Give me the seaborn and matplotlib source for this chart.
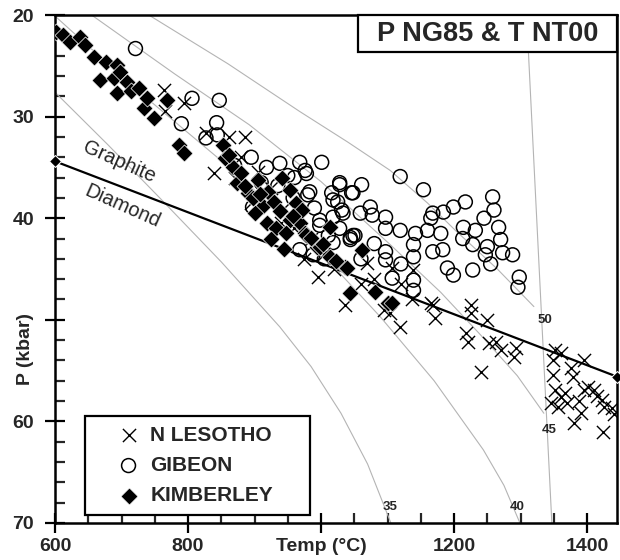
import numpy as np
import pandas as pd
import matplotlib.pyplot as plt
import matplotlib.patches as patches
from matplotlib.ticker import MultipleLocator
import seaborn as sns

# --- global style ---
sns.set_style('ticks')
plt.rcParams['font.family'] = ['Liberation Sans', 'DejaVu Sans']
plt.rcParams['font.weight'] = 'bold'

# --- data (T in deg C, P in kbar) ---
lesotho_T = [764, 794, 766, 827, 862, 885, 839, 880, 905, 925, 945, 960, 985, 1005,
             1020, 870, 895, 940, 975, 995, 1036, 1069, 1094, 1107, 1139, 1165,
             1060, 1080, 1120, 1104, 1119, 1137, 1169, 1172, 1225, 1225, 1250, 1218,
             1221, 1252, 1263, 1270, 1293, 1290, 1240, 1351, 1361, 1349, 1396, 1349,
             1376, 1379, 1346, 1361, 1370, 1396, 1402, 1411, 1391, 1381, 1422, 1426,
             1437, 1424, 1356, 1367, 1351, 1388, 1440, 1415]
lesotho_P = [27.4, 28.7, 29.4, 31.6, 32.0, 32.0, 35.6, 34.0, 35.5, 37.0, 39.0, 41.0, 42.0, 43.5,
             45.0, 36.0, 38.5, 40.5, 44.0, 45.8, 48.5, 44.4, 49.0, 44.9, 45.1, 48.3,
             46.5, 46.0, 46.5, 49.3, 50.7, 48.0, 48.5, 49.8, 48.5, 49.3, 50.0, 51.3,
             52.2, 52.3, 52.2, 53.0, 52.8, 53.7, 55.1, 53.0, 53.3, 54.0, 54.0, 55.4,
             54.7, 55.6, 58.2, 57.6, 58.2, 56.9, 56.6, 56.9, 59.2, 60.2, 57.9, 58.6,
             58.7, 61.0, 58.6, 57.2, 56.9, 58.0, 59.3, 57.5]

gibeon_T = [721, 806, 847, 790, 843, 844, 827, 895, 918, 938, 968, 1001, 978, 897,
            958, 980, 1028, 1048, 1025, 998, 968, 988, 1018, 1044, 1033, 976, 983,
            1016, 1018, 1046, 1031, 1077, 1059, 1048, 1018, 998, 1011, 1028, 1044,
            1028, 1061, 1119, 1154, 1074, 1097, 1097, 1119, 1142, 1139, 1139, 1097,
            1097, 1160, 1168, 1184, 1199, 1217, 1180, 1183, 1168, 1214, 1232, 1213,
            1228, 1250, 1247, 1258, 1260, 1267, 1270, 1273, 1288, 1190, 1199, 1228,
            1139, 1139, 1298, 1296, 1107, 1051, 935, 950, 910, 960, 990, 870, 1005,
            1060, 1080, 1120, 1165, 1245, 1255]
gibeon_P = [23.3, 28.2, 28.4, 30.7, 30.6, 31.8, 32.1, 34.0, 35.0, 34.6, 34.5, 34.5, 35.6, 38.9,
            38.0, 37.7, 36.5, 37.5, 38.4, 40.2, 43.1, 43.6, 42.4, 41.9, 39.5, 35.3, 37.4,
            37.5, 38.2, 37.5, 39.2, 39.7, 39.5, 41.7, 39.9, 40.7, 41.7, 41.0, 42.1,
            36.7, 36.7, 35.9, 37.2, 38.9, 39.9, 41.0, 41.2, 41.5, 42.6, 43.8, 43.3,
            44.1, 41.2, 39.5, 39.4, 38.9, 38.4, 41.5, 43.1, 43.3, 40.9, 41.2, 42.0,
            42.6, 42.8, 43.6, 37.9, 39.2, 40.9, 42.1, 43.4, 43.6, 44.9, 45.6, 45.1,
            46.1, 47.1, 45.8, 46.8, 45.9, 41.7, 36.8, 35.8, 36.5, 36.0, 39.0, 34.8, 44.0,
            44.0, 42.5, 44.5, 40.0, 40.0, 44.5]

kimberley_T = [602, 612, 623, 638, 645, 658, 668, 676, 688, 693, 693, 698, 708, 715,
               726, 734, 738, 749, 768, 787, 794, 852, 855, 867, 873, 880, 890, 905,
               912, 920, 918, 930, 933, 941, 953, 953, 962, 968, 971, 976, 978, 994,
               998, 1013, 1013, 1036, 1039, 1044, 1062, 1081, 1101, 1107, 900, 925, 945,
               862, 885, 897, 908, 938, 948, 958, 985, 1003, 1022]
kimberley_P = [21.7, 22.0, 22.7, 22.2, 23.0, 24.1, 26.4, 24.6, 26.2, 24.9, 27.7, 25.6, 26.6, 27.5,
               27.2, 29.2, 28.2, 30.1, 28.4, 32.8, 33.6, 32.8, 34.1, 35.0, 36.5, 35.6, 37.5, 36.2,
               38.8, 37.4, 40.5, 38.4, 41.0, 36.0, 37.2, 40.2, 38.5, 40.5, 39.2, 41.5, 41.7, 42.8,
               42.8, 43.8, 40.9, 44.8, 44.9, 47.4, 43.1, 47.3, 48.3, 48.3, 39.5, 42.0, 43.0,
               33.8, 36.8, 38.0, 37.6, 39.3, 41.5, 39.8, 41.9, 42.5, 44.2]

# conductive geotherms (mW/m2) and mantle adiabat
geo35_T = [600, 680, 756, 850, 938, 985, 1030, 1070, 1105]
geo35_P = [27.6, 32.8, 37.9, 44.3, 50.7, 54.6, 59.2, 64.2, 70.0]
geo40_T = [600, 720, 862, 980, 1089, 1170, 1244, 1275, 1299]
geo40_P = [20.1, 27.2, 35.0, 42.0, 49.7, 56.0, 62.8, 66.3, 70.0]
geo45_T = [655, 780, 892, 1000, 1104, 1180, 1240, 1295, 1335]
geo45_P = [20.0, 25.8, 30.8, 36.4, 42.6, 47.3, 51.5, 55.5, 59.2]
geo50_T = [741, 860, 968, 1040, 1104, 1160, 1202, 1265, 1320]
geo50_P = [20.0, 24.8, 29.5, 32.5, 35.3, 38.5, 41.2, 45.0, 48.7]
adiabat_T = [1309, 1347]
adiabat_P = [20.0, 70.0]

# graphite-diamond boundary
gd_T = [600, 1445]
gd_P = [34.4, 55.6]

xticks = [600, 800, 1000, 1200, 1400]
xtick_labels = ['600', '800', 'Temp (°C)', '1200', '1400']
yticks = [20, 30, 40, 50, 60, 70]
ytick_labels = ['20', '30', '40', 'P (kbar)', '60', '70']

# --- figure ---
fig = plt.figure(figsize=(6.2, 5.6), dpi=100)
ax = fig.add_axes([0.0887, 0.0661, 0.9065, 0.9071])

geo = [(geo35_T, geo35_P), (geo40_T, geo40_P), (geo45_T, geo45_P),
       (geo50_T, geo50_P), (adiabat_T, adiabat_P)]
for gT, gP in geo:
    sns.lineplot(x=gT, y=gP, ax=ax, color='#b4b4b4', lw=0.8, sort=False,
                 estimator=None, zorder=1)

for lab, tx, ty in [('35', 1104, 68.4), ('40', 1295, 68.4),
                    ('45', 1343, 60.8), ('50', 1336, 50.0)]:
    ax.text(tx, ty, lab, fontsize=9.5, ha='center', va='center', zorder=2)

sns.lineplot(x=gd_T, y=gd_P, ax=ax, color='black', lw=1.6, zorder=3,
             marker='D', markersize=6, clip_on=False, estimator=None)
ax.text(697, 34.5, 'Graphite', fontsize=14.5, fontweight='normal',
        rotation=-24, ha='center', va='center')
ax.text(702, 38.8, 'Diamond', fontsize=14.5, fontweight='normal',
        rotation=-24, ha='center', va='center')

df_les = pd.DataFrame({'T': lesotho_T, 'P': lesotho_P})
df_gib = pd.DataFrame({'T': gibeon_T, 'P': gibeon_P})
df_kim = pd.DataFrame({'T': kimberley_T, 'P': kimberley_P})

sns.scatterplot(data=df_les, x='T', y='P', ax=ax, marker='x', s=90,
                color='black', linewidth=1.0, label='N LESOTHO', zorder=4)
sns.scatterplot(data=df_gib, x='T', y='P', ax=ax, marker='o', s=100,
                color='black', linewidth=1.1, label='GIBEON', zorder=5)
ax.collections[-1].set_facecolor('none')
ax.collections[-1].set_edgecolor('black')
sns.scatterplot(data=df_kim, x='T', y='P', ax=ax, marker='D', s=75,
                color='black', edgecolor='white', linewidth=0.5,
                label='KIMBERLEY', zorder=6)

# --- axes ---
ax.set_xlim(600, 1445)
ax.set_ylim(70, 20)
ax.set_xlabel('')
ax.set_ylabel('')
ax.xaxis.set_minor_locator(MultipleLocator(50))
ax.yaxis.set_minor_locator(MultipleLocator(2))
ax.set_xticks(xticks)
ax.set_xticklabels(xtick_labels)
ax.set_yticks(yticks)
ax.set_yticklabels(ytick_labels)
ax.get_yticklabels()[3].set_rotation(90)
ax.get_xticklabels()[2].set_fontsize(15)
ax.tick_params(which='major', direction='inout', length=14, width=1.6,
               labelsize=14, color='black')
ax.tick_params(axis='x', which='major', pad=4)
ax.tick_params(axis='y', which='major', pad=8)
ax.tick_params(which='minor', direction='in', length=7, width=1.6)
for sp in ax.spines.values():
    sp.set_linewidth(1.8)
    sp.set_color('black')

# title box
ax.add_patch(patches.Rectangle((0.539, 0.927), 0.461, 0.073, transform=ax.transAxes,
                               facecolor='white', edgecolor='black', lw=1.6,
                               zorder=8, clip_on=False))
ax.text(0.77, 0.962, 'P NG85 & T NT00', transform=ax.transAxes, fontsize=19.5,
        ha='center', va='center', zorder=9)

# legend
leg = ax.legend(loc='lower left', bbox_to_anchor=(0.053, 0.016, 0.401, 0.205),
                mode='expand', fontsize=15, frameon=True, fancybox=False,
                edgecolor='black', framealpha=1, borderpad=0.45,
                handlelength=3.3, handletextpad=-0.6, labelspacing=0.55,
                borderaxespad=0)
leg.get_frame().set_linewidth(1.6)
leg.set_zorder(10)

fig.savefig('out.png', dpi=100)
